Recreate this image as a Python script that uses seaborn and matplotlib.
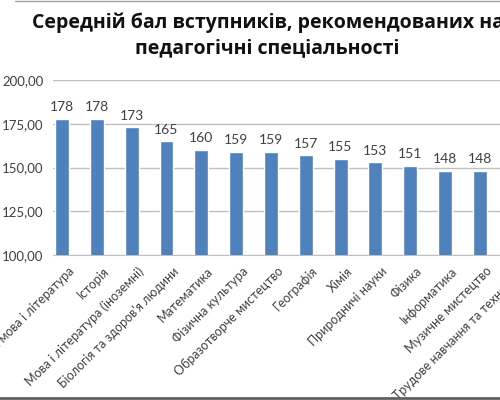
# Середній бал вступників - bar chart
import matplotlib
matplotlib.use("Agg")
import matplotlib.pyplot as plt
import matplotlib.transforms as mtransforms
from matplotlib.lines import Line2D
import pandas as pd
import seaborn as sns

# Chart data
categories = [
    "Українська мова і література",
    "Історія",
    "Мова і література (іноземні)",
    "Біологія та здоров’я людини",
    "Математика",
    "Фізична культура",
    "Образотворче мистецтво",
    "Географія",
    "Хімія",
    "Природничі науки",
    "Фізика",
    "Інформатика",
    "Музичне мистецтво",
    "Трудове навчання та технології",
]
scores = [178, 178, 173, 165, 160, 159, 159, 157, 155, 153, 151, 148, 148, 147]
y_ticks = [100, 125, 150, 175, 200]
title = "Середній бал вступників, рекомендованих на\nпедагогічні спеціальності"

df = pd.DataFrame({"category": categories, "score": scores})

sns.set_style("white")
plt.rcParams["font.family"] = ["Lato", "DejaVu Sans"]

fig = plt.figure(figsize=(5, 4), dpi=100)
# axes run past the right edge like the cropped original
ax = fig.add_axes([0.106, 0.3625, 0.958, 0.4375])

sns.barplot(data=df, x="category", y="score", color="#4F81BD",
            width=0.4, saturation=1, ax=ax, zorder=3)

ax.set_ylim(100, 200)
ax.set_xlim(-0.26, 13.5)
ax.set_yticks(y_ticks)
ax.set_yticklabels([f"{v:.2f}".replace(".", ",") for v in y_ticks],
                   fontsize=9.5, color="#404040")
ax.yaxis.grid(True, color="#C0C0C0", linewidth=1, zorder=0)
ax.tick_params(axis="both", length=0)
ax.tick_params(axis="y", pad=7)
for side in ["top", "right", "left"]:
    ax.spines[side].set_visible(False)
ax.spines["bottom"].set_color("#C0C0C0")
ax.set_xlabel("")
ax.set_ylabel("")

# value labels
for p, v in zip(ax.patches, scores):
    ax.annotate(str(v), (p.get_x() + p.get_width() / 2, p.get_height()),
                xytext=(0, 4), textcoords="offset points",
                ha="center", va="bottom", fontsize=10, color="#404040")

# rotated category labels
offset = mtransforms.ScaledTranslation(10 / 100, -14 / 100, fig.dpi_scale_trans)
ax.set_xticks(range(len(categories)))
ax.set_xticklabels(categories, rotation=45, ha="right", va="center",
                   rotation_mode="anchor", fontsize=9, color="#404040")
ax.tick_params(axis="x", pad=0)
for lbl in ax.get_xticklabels():
    lbl.set_transform(lbl.get_transform() + offset)

fig.text(0.535, 0.968, title, ha="center", va="top", fontsize=14,
         fontweight="bold", color="#111111", linespacing=1.3,
         family=["Open Sans", "DejaVu Sans"])

# frame lines of the screenshot
fig.add_artist(Line2D([0.03, 1], [0.997, 0.997], color="#A0A0A0", lw=1))
fig.add_artist(Line2D([0, 1], [0.004, 0.004], color="#606060", lw=2))

fig.savefig("out.png", dpi=100)
